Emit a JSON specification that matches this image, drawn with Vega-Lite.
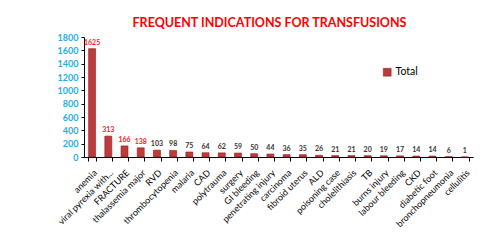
{
  "$schema": "https://vega.github.io/schema/vega-lite/v6.json",
  "autosize": "none",
  "width": 389,
  "height": 120,
  "padding": {"left": 84, "top": 37, "right": 22, "bottom": 87},
  "background": "white",
  "title": {
    "text": "FREQUENT  INDICATIONS FOR TRANSFUSIONS",
    "font": "Lato",
    "fontSize": 12.5,
    "fontWeight": "bold",
    "color": "#FF0000",
    "anchor": "middle",
    "frame": "group",
    "dx": -9,
    "offset": 4
  },
  "config": {
    "view": {"stroke": null},
    "font": "Lato"
  },
  "data": {
    "values": [
      {"indication": "anemia", "value": 1625},
      {"indication": "viral pyrexia with...", "value": 313},
      {"indication": "FRACTURE", "value": 166},
      {"indication": "thalassemia major", "value": 138},
      {"indication": "RVD", "value": 103},
      {"indication": "thrombocytopenia", "value": 98},
      {"indication": "malaria", "value": 75},
      {"indication": "CAD", "value": 64},
      {"indication": "polytrauma", "value": 62},
      {"indication": "surgery", "value": 59},
      {"indication": "GI bleeding", "value": 50},
      {"indication": "penetrating injury", "value": 44},
      {"indication": "carcinoma", "value": 36},
      {"indication": "fibroid uterus", "value": 35},
      {"indication": "ALD", "value": 26},
      {"indication": "poisoning case", "value": 21},
      {"indication": "cholelithiasis", "value": 21},
      {"indication": "TB", "value": 20},
      {"indication": "burns injury", "value": 19},
      {"indication": "labour bleeding", "value": 17},
      {"indication": "CKD", "value": 14},
      {"indication": "diabetic foot", "value": 14},
      {"indication": "bronchopneumonia", "value": 6},
      {"indication": "cellulitis", "value": 1}
    ]
  },
  "encoding": {
    "x": {
      "field": "indication",
      "type": "nominal",
      "sort": null,
      "scale": {"paddingInner": 0.55, "paddingOuter": 0.275},
      "axis": {
        "title": null,
        "labelAngle": -45,
        "labelFontSize": 9,
        "labelFont": "Lato",
        "labelFontWeight": "normal",
        "labelColor": "#000000",
        "tickBand": "extent",
        "tickColor": "#000000",
        "domainColor": "#000000",
        "tickSize": 4,
        "labelPadding": 7
      }
    },
    "y": {
      "field": "value",
      "type": "quantitative",
      "scale": {"domain": [0, 1800], "nice": false},
      "axis": {
        "title": null,
        "values": [0, 200, 400, 600, 800, 1000, 1200, 1400, 1600, 1800],
        "format": "d",
        "grid": false,
        "labelColor": "#1FAEEB",
        "labelFontWeight": "bold",
        "labelFontSize": 9,
        "labelFont": "Lato",
        "tickColor": "#000000",
        "domainColor": "#000000",
        "tickSize": 3,
        "labelPadding": 3
      }
    }
  },
  "layer": [
    {
      "mark": {"type": "bar", "width": 7, "stroke": "#8A1F1F", "strokeWidth": 0.6},
      "encoding": {
        "color": {
          "datum": "Total",
          "type": "nominal",
          "scale": {"range": ["#BE3B3B"]},
          "legend": {
            "title": null,
            "orient": "none",
            "legendX": 298,
            "legendY": 30,
            "symbolType": "square",
            "symbolSize": 60,
            "symbolStrokeColor": "#8A1F1F",
            "symbolStrokeWidth": 0.6,
            "labelFontSize": 10.5,
            "labelFont": "Lato",
            "labelColor": "#000000",
            "labelOffset": 3
          }
        }
      }
    },
    {
      "mark": {"type": "text", "dy": -6, "fontSize": 7, "fontWeight": "bold", "font": "Lato"},
      "encoding": {
        "text": {"field": "value", "type": "quantitative"},
        "color": {
          "condition": {"test": "datum.value >= 130", "value": "#FF2020"},
          "value": "#333333"
        }
      }
    }
  ]
}
